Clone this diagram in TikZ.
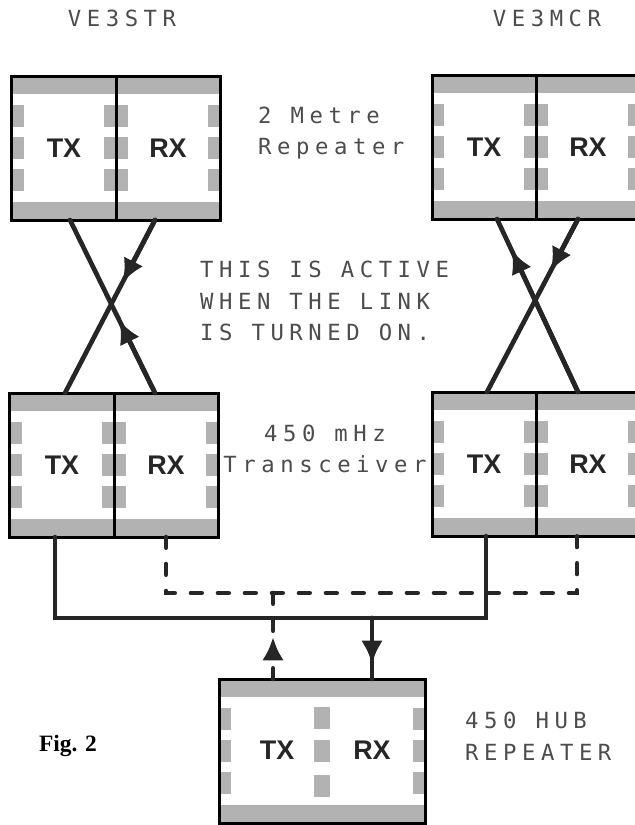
\documentclass[tikz,border=0pt]{standalone}
\usepackage{fontspec}
\setmainfont{Liberation Serif}
\newfontfamily\dotfont[LetterSpace=25]{DejaVu Sans Mono}
\newfontfamily\handfont{Liberation Sans}
\usetikzlibrary{arrows.meta,positioning,calc}

\newcommand\boxshading{%
  \fill[shadefill] (path picture bounding box.north west) rectangle ([yshift=-5.4mm]path picture bounding box.north east);
  \fill[shadefill] (path picture bounding box.south west) rectangle ([yshift=5.4mm]path picture bounding box.south east);
  \foreach \f in {0.28,0.5,0.72} {
    \fill[shadefill] ($(path picture bounding box.north west)!\f!(path picture bounding box.south west)+(0,-11)$) rectangle ++(12,22);
    \fill[shadefill] ($(path picture bounding box.north east)!\f!(path picture bounding box.south east)+(-12,-11)$) rectangle ++(12,22);
  }}

\begin{document}
\begin{tikzpicture}[
    x=0.3mm, y=-0.3mm,
    shadefill/.style={fill=black!30},
    cell/.style={draw, line width=0.9mm, minimum width=31.2mm, minimum height=43.2mm, inner sep=0pt, outer sep=0pt,
      font=\handfont\bfseries\fontsize{23}{23}\selectfont, text=black!85, path picture={\boxshading}},
    hubbox/.style={draw, line width=0.9mm, minimum width=61.8mm, minimum height=43.2mm, inner sep=0pt, outer sep=0pt,
      path picture={\boxshading
        \foreach \f in {0.27,0.5,0.74} {
          \fill[shadefill] ($(path picture bounding box.north)!\f!(path picture bounding box.south)+(-8,-11)$) rectangle ++(16,22);
        }}},
    handtext/.style={font=\handfont\bfseries\fontsize{23}{23}\selectfont, text=black!85},
    dottext/.style={font=\dotfont\fontsize{19}{27}\selectfont, text=black!70, inner sep=0pt},
    link/.style={line width=1.4mm, line cap=round, draw=black!85},
    arrowlink/.style={link, -{Latex[length=7mm,width=6.5mm]}},
    dashlink/.style={link, dash pattern=on 3.2mm off 4.9mm}
  ]
    \useasboundingbox (0,0) rectangle (634,825);

    \node[dottext] (str) at (122,18) {VE3STR};
    \node[dottext] (mcr) at (547,18) {VE3MCR};

    \node[cell] (stTX) at (64,148) {TX};
    \node[cell, right=0pt of stTX] (stRX) {RX};
    \node[cell] (mcTX) at (484,147) {TX};
    \node[cell, right=0pt of mcTX] (mcRX) {RX};
    \node[cell] (lkTX) at (62,465) {TX};
    \node[cell, right=0pt of lkTX] (lkRX) {RX};
    \node[cell] (trTX) at (484,464) {TX};
    \node[cell, right=0pt of trTX] (trRX) {RX};
    \node[hubbox] (hub) at (322,751) {};
    \node[handtext] (hubTX) at (277,750) {TX};
    \node[handtext] (hubRX) at (372,750) {RX};

    \node[dottext, align=left, anchor=west] (metre) at (258,133) {2 Metre\\Repeater};
    \node[dottext, align=left, anchor=west] (note) at (200,301) {THIS IS ACTIVE\\WHEN THE LINK\\IS TURNED ON.};
    \node[dottext, align=center] (trcv) at (325,449) {450 mHz\\Transceiver};
    \node[dottext, align=left, anchor=west] (hubname) at (465,736) {450 HUB\\REPEATER};
    \node[font=\bfseries\fontsize{20}{20}\selectfont] (fig) at (68,746) {Fig. 2};

    \coordinate (aTop) at ($(stTX.south)+(6,0)$);
    \coordinate (aBot) at ($(lkRX.north)+(-11,0)$);
    \coordinate (bTop) at ($(stRX.south)+(-13,0)$);
    \coordinate (bBot) at ($(lkTX.north)+(3,0)$);
    \draw[link] (aTop) -- (aBot);
    \draw[arrowlink] (aBot) -- ($(aBot)!0.42!(aTop)$);
    \draw[link] (bTop) -- (bBot);
    \draw[arrowlink] (bTop) -- ($(bTop)!0.36!(bBot)$);

    \coordinate (cTop) at ($(mcTX.south)+(13,0)$);
    \coordinate (cBot) at ($(trRX.north)+(-10,0)$);
    \coordinate (dTop) at ($(mcRX.south)+(-10,0)$);
    \coordinate (dBot) at ($(trTX.north)+(3,0)$);
    \draw[link] (cTop) -- (cBot);
    \draw[arrowlink] (cBot) -- ($(cBot)!0.82!(cTop)$);
    \draw[link] (dTop) -- (dBot);
    \draw[arrowlink] (dTop) -- ($(dTop)!0.3!(dBot)$);

    \coordinate (busL) at (55,618);
    \coordinate (busR) at (486,618);
    \coordinate (dashL) at (166,593);
    \coordinate (dashR) at (577,593);
    \coordinate (rxTap) at (372,618);
    \coordinate (rxTip) at (372,664);
    \coordinate (txTap) at (273,593);
    \coordinate (txTip) at (273,637);
    \draw[link] (lkTX.south -| busL) -- (busL) -- (busR) -- (trTX.south -| busR);
    \draw[dashlink] (lkRX.south -| dashL) -- (dashL) -- (dashR) -- (trRX.south -| dashR);
    \draw[link] (rxTap) -- (rxTap |- hub.north);
    \draw[arrowlink] (rxTap) -- (rxTip);
    \draw[dashlink] (txTap) -- (txTip);
    \draw[dashlink, -{Latex[length=7mm,width=6.5mm]}] (txTap |- hub.north) -- (txTip);
  \end{tikzpicture}
\end{document}
